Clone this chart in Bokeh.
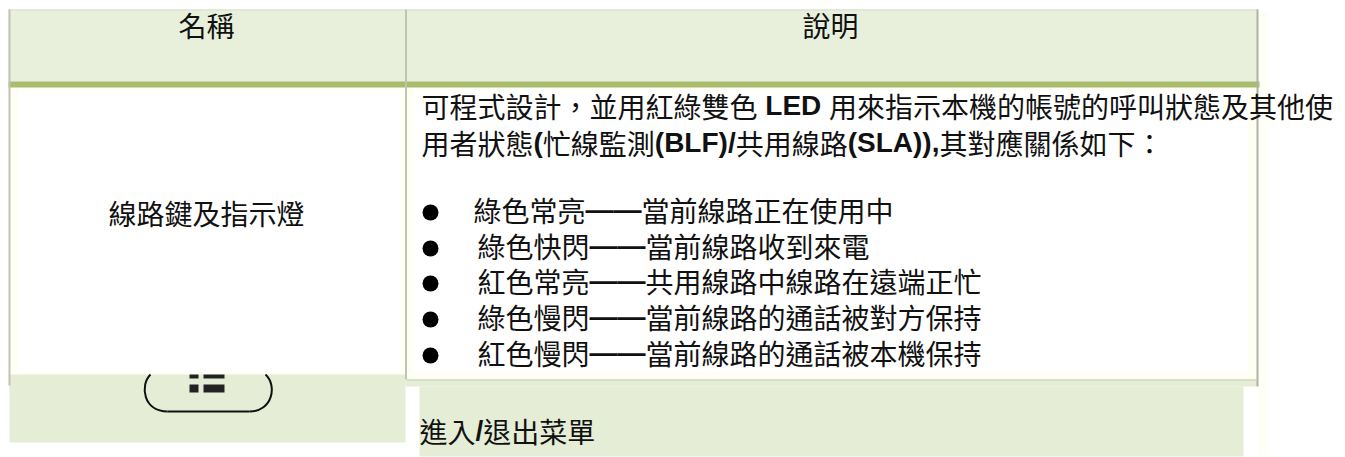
from bokeh.plotting import figure
from bokeh.embed import file_html
from bokeh.resources import INLINE
from bokeh.core.properties import value
from bokeh.models import Range1d

header_names = ["名稱", "說明"]
row_name = "線路鍵及指示燈"
intro_lines = [
    [("可程式設計，並用紅綠雙色", False), (" LED ", True), ("用來指示本機的帳號的呼叫狀態及其他使", False)],
    [("用者狀態", False), ("(", True), ("忙線監測", False), ("(BLF)/", True), ("共用線路", False), ("(SLA)),", True), ("其對應關係如下：", False)],
]
led_states = ["綠色常亮", "綠色快閃", "紅色常亮", "綠色慢閃", "紅色慢閃"]
led_meanings = ["當前線路正在使用中", "當前線路收到來電", "共用線路中線路在遠端正忙", "當前線路的通話被對方保持", "當前線路的通話被本機保持"]
menu_text = [("進入", False), ("/", True), ("退出菜單", False)]

FS = 28
CJK = value("Noto Sans CJK TC")
LAT = value("Liberation Sans")
W = {"L": .611, "E": .667, "D": .722, "B": .722, "F": .611, "S": .667, "A": .722,
     "(": .333, ")": .333, "/": .278, " ": .278, ",": .278}

p = figure(width=1345, height=457, output_backend="svg", toolbar_location=None,
           x_range=Range1d(0, 1345), y_range=Range1d(457, 0),
           min_border=0, outline_line_color=None, background_fill_color="white",
           border_fill_color="white")
p.xaxis.visible = False
p.yaxis.visible = False
p.grid.visible = False


def box(l, r, t, b, c):
    p.quad(left=[l], right=[r], top=[t], bottom=[b], fill_color=c, line_color=None)


def runs(x, y, parts):
    for s, bold in parts:
        if bold:
            lead = len(s) - len(s.lstrip())
            p.text([x + lead * W[" "] * FS], [y], text=[s.strip()], text_font=LAT, text_font_style="bold",
                   text_font_size=f"{FS}px", text_baseline="middle", text_color="#111111")
            x += sum(W.get(ch, .6) for ch in s) * FS
        else:
            p.text([x], [y], text=[s], text_font=CJK, text_font_size=f"{FS}px",
                   text_baseline="middle", text_color="#111111")
            x += len(s) * FS


# faint halo to the right of the table
box(1258, 1268, 10, 456, "#FDFEF6")
# header
box(8, 1257, 9, 82, "#E8F0DC")
# body cells
box(9, 405, 87, 379, "#FEFEF3")
box(17, 400, 90, 372, "#FFFFFF")
box(406, 1256, 87, 379, "#FEFEF3")
box(413, 1248, 90, 372, "#FFFFFF")
# bottom row blocks
box(405, 1257, 379, 386, "#E5EDD6")
box(419, 1243, 386, 456, "#E5EDD6")
box(9, 405, 374, 442, "#E5EDD6")
# rules
box(8, 1259, 81, 87, "#A9BC6E")
box(8, 1258, 9, 10, "#DADED0")
box(8, 10, 9, 385, "#BFC3B2")
box(404.5, 406.5, 9, 379, "#BFC3B2")
box(1256, 1258, 9, 386, "#AEB2A2")
box(406, 1258, 379, 380, "#C4C9B4")

# menu key drawn in the left block
p.bezier(x0=[150], y0=[374], x1=[167], y1=[411], cx0=[139], cy0=[385], cx1=[143], cy1=[411],
         line_color="#111111", line_width=2)
p.segment(x0=[167], y0=[411], x1=[249], y1=[411], line_color="#111111", line_width=2)
p.bezier(x0=[249], y0=[411], x1=[265], y1=[374], cx0=[272], cy0=[411], cx1=[277], cy1=[385],
         line_color="#111111", line_width=2)
box(189, 198, 374, 378, "#222222")
box(203, 224, 374, 378, "#222222")
box(189, 198, 384, 392, "#222222")
box(203, 224, 384, 392, "#222222")

# texts
DY = -3
for cx, s in zip((206, 830), header_names):
    p.text([cx], [27 + DY], text=[s], text_font=CJK, text_font_size=f"{FS}px",
           text_align="center", text_baseline="middle", text_color="#111111")
p.text([206], [215 + DY], text=[row_name], text_font=CJK, text_font_size=f"{FS}px",
       text_align="center", text_baseline="middle", text_color="#111111")

for yy, parts in zip((108, 145), intro_lines):
    runs(421, yy + DY, parts)

ys = (212, 248, 283, 319, 355)
xs = (473, 477, 477, 477, 477)
p.scatter([430] * 5, list(ys), marker="circle", size=16, fill_color="#000000", line_color=None)
for x, y, a, b in zip(xs, ys, led_states, led_meanings):
    runs(x, y + DY, [(a, False)])
    p.text([x + 4 * FS], [y + DY], text=["——"], text_font=LAT, text_font_style="bold",
           text_font_size=f"{FS}px", text_baseline="middle", text_color="#111111")
    runs(x + 6 * FS, y + DY, [(b, False)])

runs(419, 433 + DY, menu_text)

open("out.html", "w").write(file_html(p, INLINE))
